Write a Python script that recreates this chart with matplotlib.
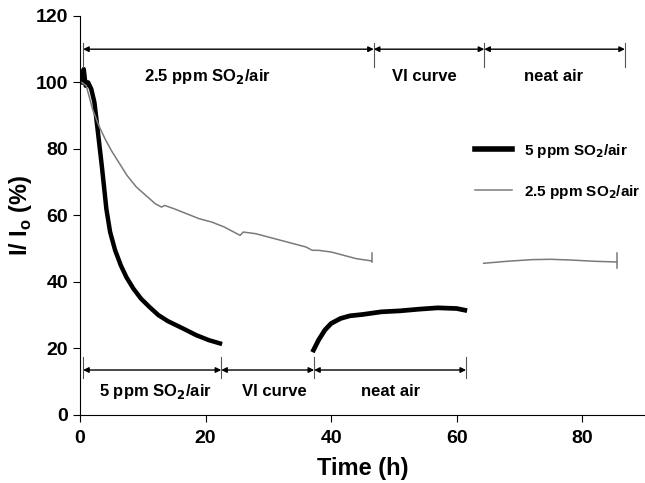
import matplotlib.pyplot as plt

plt.rcParams['font.family'] = ['Liberation Sans', 'DejaVu Sans']
plt.rcParams['font.weight'] = 'bold'

# 5 ppm SO2/air (black) - exposure then neat air recovery
t5_a = [0.3, 0.6, 0.9, 1.3, 1.8, 2.3, 2.8, 3.5, 4.2, 4.8, 5.6, 6.5, 7.4, 8.5, 9.7,
        11.1, 12.5, 14.0, 16.4, 18.5, 20.5, 22.3]
y5_a = [100, 104, 99, 100, 98, 94, 86, 74.5, 62, 55, 49.5, 45, 41.4, 38, 35,
        32.4, 30, 28.2, 26, 24, 22.5, 21.5]
t5_b = [37.2, 38.0, 39.0, 40.0, 41.5, 43.0, 45.0, 48.0, 51.0, 54.0, 57.0, 60.0, 61.3]
y5_b = [19.5, 22.5, 25.5, 27.5, 29.0, 29.8, 30.2, 31.0, 31.3, 31.8, 32.2, 32.0, 31.5]

# 2.5 ppm SO2/air (grey)
t25_a = [0.3, 1, 2, 3, 4, 5, 6, 7.5, 9, 10.5, 12, 13, 13.5, 15, 17, 19, 21, 23, 25,
         25.5, 26, 28, 30, 32, 34, 36, 37, 38, 40, 42, 44, 46.5]
y25_a = [100, 99, 92, 87, 83, 79.5, 76.5, 72, 68.5, 66, 63.5, 62.5, 63, 62, 60.5,
         59, 58, 56.5, 54.5, 54, 55, 54.5, 53.5, 52.5, 51.5, 50.5, 49.5, 49.5, 49,
         48, 47, 46.3]
t25_b = [64.3, 68, 72, 75, 78, 82, 85.5]
y25_b = [45.6, 46.2, 46.7, 46.8, 46.6, 46.2, 46.0]
# end marks on the grey trace: (t, y_low, y_high)
end_marks = [(46.5, 46.0, 48.8), (85.5, 44.2, 48.6)]

# phase annotations: (start, end, label, label x)
top_phases = [(0.5, 46.8, '2.5 ppm SO$_2$/air', 20.3), (46.8, 64.4, 'VI curve', 54.9),
              (64.4, 86.8, 'neat air', 75.5)]
bottom_phases = [(0.5, 22.5, '5 ppm SO$_2$/air', 12.0), (22.5, 37.3, 'VI curve', 31.0),
                 (37.3, 61.5, 'neat air', 49.5)]

fig = plt.figure(figsize=(6.45, 4.83), dpi=100)
ax = fig.add_axes([0.124, 0.141, 0.876, 0.826])

ax.plot(t5_a, y5_a, color='black', lw=3.2, label='5 ppm SO$_2$/air')
ax.plot(t5_b, y5_b, color='black', lw=3.4)
ax.plot(t25_a, y25_a, color='#7a7a7a', lw=1.1, label='2.5 ppm SO$_2$/air')
ax.plot(t25_b, y25_b, color='#7a7a7a', lw=1.1)
for t, lo, hi in end_marks:
    ax.plot([t, t], [lo, hi], color='#7a7a7a', lw=1.1)


def draw_phases(phases, y, ylab, tick_lo, tick_hi):
    for x0, x1, lab, xl in phases:
        ax.annotate('', xy=(x1, y), xytext=(x0, y),
                    arrowprops=dict(arrowstyle='<|-|>', color='black', lw=1,
                                    shrinkA=0, shrinkB=0, mutation_scale=8))
        ax.text(xl, ylab, lab, ha='center', va='center', fontsize=12)
    edges = sorted(set([p[0] for p in phases] + [p[1] for p in phases]))
    for e in edges:
        ax.plot([e, e], [tick_lo, tick_hi], color='#555555', lw=0.8)


draw_phases(top_phases, 110, 101.8, 104.5, 112)
draw_phases(bottom_phases, 13.5, 6.9, 11, 17.5)

ax.set_xlim(0, 90)
ax.set_ylim(0, 120)
ax.set_xticks([0, 20, 40, 60, 80])
ax.set_yticks(range(0, 121, 20))
ax.spines['top'].set_visible(False)
ax.spines['right'].set_visible(False)
ax.tick_params(labelsize=14, direction='out', length=5)
ax.tick_params(axis='x', pad=6)
for lbl in ax.get_xticklabels() + ax.get_yticklabels():
    lbl.set_fontweight('bold')
ax.set_xlabel('Time (h)', fontsize=17, fontweight='bold', labelpad=7)
ax.set_ylabel('I/ I$_\\mathregular{o}$ (%)', fontsize=17, fontweight='bold',
              labelpad=1.5)

leg = ax.legend(loc='upper left', bbox_to_anchor=(0.70, 0.685), frameon=False,
                fontsize=11, handlelength=2.4, handletextpad=0.8,
                labelspacing=1.5, borderpad=0, borderaxespad=0)
leg.get_lines()[0].set_linewidth(4)

fig.savefig('out.png', dpi=100)
